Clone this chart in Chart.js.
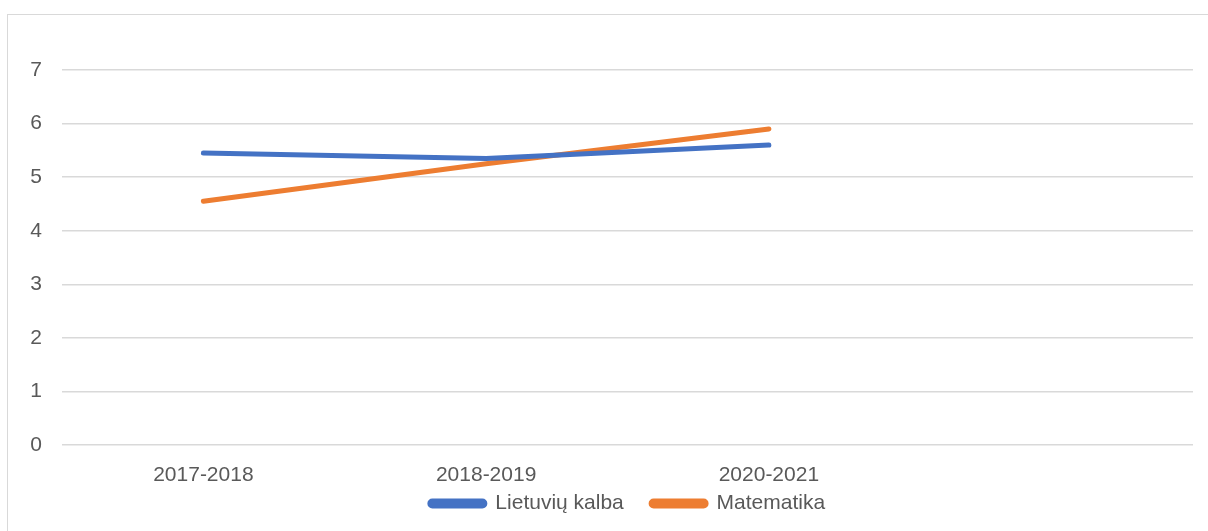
<!DOCTYPE html>
<html>
<head>
<meta charset="utf-8">
<script src="https://cdn.jsdelivr.net/npm/chart.js@4.4.1/dist/chart.umd.min.js"></script>
<style>
  html, body { margin: 0; padding: 0; background: #ffffff; }
  body { width: 1208px; height: 531px; overflow: hidden; position: relative; }
  #frame { position: absolute; left: 7px; top: 14px; width: 1400px; height: 700px;
           border-left: 1.5px solid #d9d9d9; border-top: 1.5px solid #d9d9d9; box-sizing: border-box; }
  #wrap { position: absolute; left: 0; top: 0; width: 1208px; height: 531px; }
</style>
</head>
<body>
<div id="frame"></div>
<div id="wrap"><canvas id="c" width="1208" height="531"></canvas></div>
<script>
const categories = ['2017-2018', '2018-2019', '2020-2021', ''];
const lietuviuKalba = [5.45, 5.35, 5.6, null];
const matematika = [4.55, 5.25, 5.9, null];
const seriesNames = ['Lietuvių kalba', 'Matematika'];
const yTicks = [0, 1, 2, 3, 4, 5, 6, 7];

const FONT = 'Liberation Sans, Arial, sans-serif';
const TEXT = '#595959';

new Chart(document.getElementById('c'), {
  type: 'line',
  data: {
    labels: categories,
    datasets: [
      { label: seriesNames[0], data: lietuviuKalba, borderColor: '#4472C4', backgroundColor: '#4472C4',
        borderWidth: 5, pointRadius: 0, pointHoverRadius: 0, tension: 0, borderCapStyle: 'round', borderJoinStyle: 'round' },
      { label: seriesNames[1], data: matematika, borderColor: '#ED7D31', backgroundColor: '#ED7D31',
        borderWidth: 5, pointRadius: 0, pointHoverRadius: 0, tension: 0, borderCapStyle: 'round', borderJoinStyle: 'round' }
    ]
  },
  options: {
    responsive: false,
    animation: false,
    events: [],
    layout: { padding: { left: 0, right: 15, top: 70, bottom: 7 } },
    plugins: {
      tooltip: { enabled: false },
      legend: {
        position: 'bottom',
        fullSize: false,
        labels: {
          boxWidth: 55,
          boxHeight: 5,
          useBorderRadius: true,
          borderRadius: 2.5,
          padding: 4,
          color: TEXT,
          font: { family: FONT, size: 21 },
          generateLabels: (chart) => {
            const items = Chart.defaults.plugins.legend.labels.generateLabels(chart);
            items.forEach((it, i) => { if (i < items.length - 1) it.text = it.text + '    '; });
            return items;
          }
        }
      }
    },
    scales: {
      x: {
        offset: true,
        afterFit: (s) => { s.height = 44; },
        grid: { display: false, drawTicks: false },
        border: { display: false },
        ticks: { color: TEXT, font: { family: FONT, size: 21 }, padding: 18, maxRotation: 0, autoSkip: false }
      },
      y: {
        min: 0,
        max: 7,
        afterFit: (s) => { s.width = 62; },
        afterBuildTicks: (s) => { s.ticks = yTicks.map(v => ({ value: v })); },
        grid: { color: '#d9d9d9', lineWidth: 1.5, drawTicks: false },
        border: { display: false },
        ticks: { color: TEXT, font: { family: FONT, size: 21 }, padding: 20 }
      }
    }
  }
});
</script>
</body>
</html>
